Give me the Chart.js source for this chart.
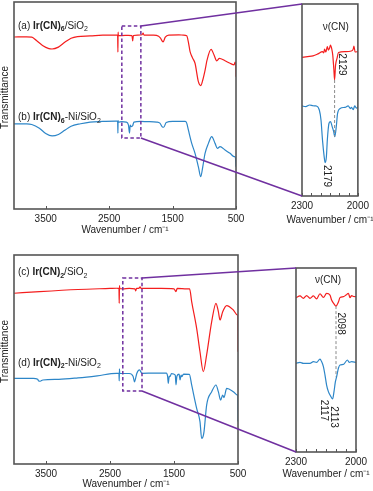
<!DOCTYPE html>
<html>
<head>
<meta charset="utf-8">
<script src="https://cdn.jsdelivr.net/npm/chart.js@4"></script>
<style>
  body { margin: 0; background: #fff; }
  canvas { position: absolute; left: 0; top: 0; }
</style>
</head>
<body>
<canvas id="mainTop" width="373" height="491"></canvas>
<canvas id="insetTop" width="373" height="491"></canvas>
<canvas id="mainBottom" width="373" height="491"></canvas>
<canvas id="insetBottom" width="373" height="491"></canvas>
<canvas id="overlay" width="373" height="491"></canvas>
<script>
// ---- data (wavenumber / cm-1, transmittance in arbitrary offset units) ----
const xTicksMain = [3500, 2500, 1500, 500];
const xTicksInset = [2300, 2000];
const xMinorInset = [2250, 2200, 2150, 2100, 2050];

// (a) Ir(CN)6/SiO2
const aWn = [4000,3800,3720,3650,3550,3450,3400,3300,3200,3100,3000,2800,2600,2400,2366,2362,2359,2355,2300,2200,2140,2129,2118,2050,1980,1965,1950,1800,1720,1690,1650,1615,1560,1400,1330,1277,1250,1224,1185,1146,1093,1056,1024,988,956,893,846,804,762,673,594,530,514,503,500];
const aT  = [83.1,83.2,83.0,81.5,79,77.5,77.3,78.2,80.5,82.5,83.3,83.6,84,84,84,75.8,85.5,83.8,83.8,83.9,83.8,81.2,83.8,84,84.2,85,84,84,83.5,82.5,80.7,83,84,84.1,84,83.7,80.5,76,73,70.4,61.5,59.6,62.3,67,72,77.1,74.4,71.6,72.8,71.6,70.4,69.6,71,70,63.9];

// (b) Ir(CN)6-Ni/SiO2
const bWn = [4000,3800,3720,3600,3500,3400,3300,3200,3100,2950,2800,2600,2400,2366,2362,2359,2355,2300,2230,2195,2179,2168,2150,2129,2110,2000,1900,1750,1700,1660,1640,1600,1500,1300,1277,1251,1198,1146,1093,1056,1024,988,935,883,830,793,751,673,594,530,510,500];
const bT  = [41.1,41.1,40.8,39,36.5,35.3,36,38,40,41.2,42,42.3,42.5,42.5,36.7,42.7,42,42.2,42,40.5,36.7,40.5,39.8,40.2,42,42.3,42.2,42,41.5,39.6,39.5,41.8,42.3,42.3,41.5,38.2,31.7,26.9,20.4,15.6,20.4,26.9,31.7,35,31.7,29.3,30.1,28.5,26.9,25.3,25,20.4];

// (c) Ir(CN)2/SiO2
const cWn = [4000,3600,3000,2500,2400,2360,2356,2352,2348,2300,2200,2110,2098,2085,2050,2030,2015,1900,1700,1500,1470,1450,1300,1256,1224,1146,1094,1042,990,911,844,807,781,739,677,573,511,502,500];
const cT  = [81.7,82.5,83.5,84,84.1,84,76.9,85.3,84,83.8,84,83.8,82.8,84,84,84.8,84,84,84,83.8,82.5,84,83.8,83.8,77.7,64.9,53.7,44.2,52.2,68.1,76.9,72.9,68.9,72.9,75.8,73.7,71.3,71,53.7];

// (d) Ir(CN)2-Ni/SiO2
const dWn = [4000,3700,3630,3614,3590,3550,3300,3000,2700,2400,2360,2356,2352,2348,2300,2200,2140,2117,2100,2080,2040,2000,1800,1620,1600,1589,1575,1563,1540,1480,1469,1455,1420,1406,1390,1380,1350,1260,1224,1146,1094,1068,1055,1031,990,911,844,807,771,740,719,677,573,511,502,500];
const dT  = [41,41,40.5,39.7,39.6,40.2,40.5,41.2,42.2,43.4,43.4,39.8,45.5,43.4,43.3,43.3,42,39.3,41,43.4,45,43.4,43.5,43.5,42,38.6,42,41.8,43.2,42.5,37.9,42,43,40.2,42.5,41.8,43,42.9,37.8,26.6,20.3,12.3,12.5,15.5,28.2,34.6,37.8,34.6,30.6,33,31.8,36.2,34.6,33,33,20.3];

// insets, nu(CN) region
const aInWn = [2300,2270,2241,2215,2190,2183,2179,2172,2164,2158,2152,2147,2140,2135,2129,2125,2120,2112,2104,2069,2035,2025,2021,2015,2000];
const aInT  = [72.2,72.6,73,74,75.2,74.5,76.5,75,77.8,76,77,78.6,76.5,73.5,66,60.4,68,71.7,74.7,75.2,75.5,76.5,78.1,75,75.2];
const bInWn = [2300,2280,2259,2240,2224,2207,2198,2190,2181,2176,2169,2164,2155,2147,2138,2130,2124,2116,2109,2095,2069,2052,2040,2035,2025,2017,2008,2000];
const bInT  = [46.9,46.5,47.4,47,46.9,44.8,39.6,29.2,20.5,17.4,20.5,29.2,37.9,38.7,36.1,33.6,30.9,36.1,43,45.6,46.2,46.9,45.5,46.2,45,46.9,45.8,46.5];
const cInWn = [2300,2280,2263,2247,2230,2213,2197,2180,2163,2147,2130,2122,2110,2100,2088,2080,2063,2050,2038,2030,2022,2013,2000];
const cInT  = [83.9,84.8,83.5,85,83.5,84.8,83.2,86,84,86.2,85.3,82.6,80.5,79.3,81.5,83.9,84.4,85.3,86.2,83.9,85,84.5,84.4];
const dInWn = [2300,2280,2263,2247,2230,2213,2197,2180,2172,2163,2155,2147,2138,2130,2117,2110,2103,2097,2088,2080,2063,2043,2033,2022,2000];
const dInT  = [48.2,48.7,48.2,48.2,48.2,49.1,48.7,50.5,49.1,46.4,41.8,36.4,32.8,31,28.8,32.8,38.2,40.9,45.5,47.3,47.6,50,48.7,49.1,48.7];

const labelA = [['(a) ','n'],['Ir(CN)','b'],['6','bs'],['/SiO','n'],['2','s']];
const labelB = [['(b) ','n'],['Ir(CN)','b'],['6','bs'],['-Ni/SiO','n'],['2','s']];
const labelC = [['(c) ','n'],['Ir(CN)','b'],['2','bs'],['/SiO','n'],['2','s']];
const labelD = [['(d) ','n'],['Ir(CN)','b'],['2','bs'],['-Ni/SiO','n'],['2','s']];

// ---- styling ----
const FONT = "'Liberation Sans', Arial, sans-serif";
const RED = '#f41e1e';
const BLUE = '#2d86c8';
const PURPLE = '#7030a0';
const TEXT = '#222';
const X_TITLE = 'Wavenumber / cm\u207B\u00B9';

const pts = (xs, ys) => xs.map((x, i) => ({ x: x, y: ys[i] }));

function drawRich(ctx, parts, x, y) {
  parts.forEach(([t, s]) => {
    const bold = s[0] === 'b';
    const sub = s.endsWith('s');
    ctx.font = (bold ? 'bold ' : '') + (sub ? 7 : 10) + 'px ' + FONT;
    ctx.fillText(t, x, sub ? y + 2.5 : y);
    x += ctx.measureText(t).width;
  });
}

const decor = {
  id: 'decor',
  afterDatasetsDraw(chart, args, o) {
    const { ctx, chartArea: a, scales: { x, y } } = chart;
    ctx.save();
    ctx.fillStyle = TEXT;
    ctx.textBaseline = 'alphabetic';
    // dashed selection box
    if (o.box) {
      const x1 = x.getPixelForValue(o.box.from), x2 = x.getPixelForValue(o.box.to);
      const y1 = y.getPixelForValue(o.box.top), y2 = y.getPixelForValue(o.box.bottom);
      ctx.strokeStyle = PURPLE; ctx.lineWidth = 1.5; ctx.setLineDash([3.5, 2.5]);
      ctx.strokeRect(x1, y1, x2 - x1, y2 - y1);
      ctx.setLineDash([]);
    }
    // guide between the two CN bands
    if (o.guide) {
      const gx = x.getPixelForValue(o.guide.x);
      ctx.strokeStyle = '#8a8a8a'; ctx.lineWidth = 1; ctx.setLineDash([3, 2]);
      ctx.beginPath();
      ctx.moveTo(gx, y.getPixelForValue(o.guide.y1));
      ctx.lineTo(gx, y.getPixelForValue(o.guide.y2));
      ctx.stroke();
      ctx.setLineDash([]);
    }
    // notes
    (o.notes || []).forEach(n => {
      ctx.save();
      ctx.font = '10px ' + FONT;
      ctx.textAlign = 'center'; ctx.textBaseline = 'middle';
      ctx.translate(x.getPixelForValue(n.x), y.getPixelForValue(n.y));
      if (n.rot) ctx.rotate(Math.PI / 2);
      ctx.fillText(n.text, 0, 0);
      ctx.restore();
    });
    // sample labels
    (o.labels || []).forEach(l => drawRich(ctx, l.parts, a.left + 4, y.getPixelForValue(l.y)));
    // inward ticks
    ctx.strokeStyle = '#555'; ctx.lineWidth = 1;
    (o.ticks || []).forEach(v => {
      const px = Math.round(x.getPixelForValue(v)) + 0.5;
      ctx.beginPath(); ctx.moveTo(px, a.bottom); ctx.lineTo(px, a.bottom - 3); ctx.stroke();
    });
    // frame
    ctx.strokeStyle = '#555'; ctx.lineWidth = 1.6;
    ctx.strokeRect(a.left, a.top, a.width, a.height);
    // y title
    if (o.yTitle) {
      ctx.save();
      ctx.font = '10px ' + FONT; ctx.textAlign = 'center'; ctx.textBaseline = 'middle';
      ctx.translate(5, (a.top + a.bottom) / 2 - 8);
      ctx.rotate(-Math.PI / 2);
      ctx.fillText(o.yTitle, 0, 0);
      ctx.restore();
    }
    // x title (drawn here so it is not squeezed to the narrow inset width)
    if (o.xTitleGap) {
      ctx.font = '10px ' + FONT; ctx.textAlign = 'center'; ctx.textBaseline = 'middle';
      ctx.fillText(X_TITLE, (a.left + a.right) / 2, a.bottom + o.xTitleGap);
    }
    ctx.restore();
  }
};

function makeChart(id, sets, xr, tickVals, pad, axisH, deco) {
  return new Chart(document.getElementById(id), {
    type: 'line',
    data: {
      datasets: sets.map(s => ({
        data: s.data, borderColor: s.color, borderWidth: 1.2,
        pointRadius: 0, cubicInterpolationMode: 'monotone', fill: false
      }))
    },
    options: {
      responsive: false, animation: false,
      layout: { padding: pad },
      plugins: { legend: { display: false }, tooltip: { enabled: false }, decor: deco },
      scales: {
        x: {
          type: 'linear', reverse: true, min: xr[0], max: xr[1],
          afterBuildTicks: s => { s.ticks = tickVals.map(v => ({ value: v })); },
          afterFit: s => { s.height = axisH; },
          grid: { display: false, drawTicks: false }, border: { display: false },
          ticks: { font: { size: 10, family: FONT }, color: TEXT, padding: 4, maxRotation: 0, autoSkip: false,
                   callback: v => String(v) },
          title: { display: false }
        },
        y: { display: false, min: 0, max: 100 }
      }
    },
    plugins: [decor]
  });
}

const mainTop = makeChart('mainTop',
  [{ data: pts(aWn, aT), color: RED }, { data: pts(bWn, bT), color: BLUE }],
  [500, 4000], xTicksMain, { left: 14, right: 137, top: 2, bottom: 251 }, 31,
  { box: { from: 2300, to: 2000, top: 88.4, bottom: 34.3 }, ticks: xTicksMain, yTitle: 'Transmittance', xTitleGap: 21,
    labels: [{ parts: labelA, y: 87 }, { parts: labelB, y: 42.8 }] });

const insetTop = makeChart('insetTop',
  [{ data: pts(aInWn, aInT), color: RED }, { data: pts(bInWn, bInT), color: BLUE }],
  [2000, 2300], xTicksInset, { left: 302, right: 13, top: 4, bottom: 261 }, 34,
  { ticks: xMinorInset.concat(xTicksInset), guide: { x: 2125, y1: 60.4, y2: 30.9 }, xTitleGap: 24,
    notes: [{ text: '\u03BD(CN)', x: 2119, y: 88 }, { text: '2129', x: 2086, y: 68.5, rot: true }, { text: '2179', x: 2167, y: 10.4, rot: true }] });

const mainBottom = makeChart('mainBottom',
  [{ data: pts(cWn, cT), color: RED }, { data: pts(dWn, dT), color: BLUE }],
  [500, 4000], xTicksMain, { left: 14, right: 135, top: 255, bottom: 0 }, 27,
  { box: { from: 2300, to: 2000, top: 89, bottom: 34.9 }, ticks: xTicksMain, yTitle: 'Transmittance', xTitleGap: 20,
    labels: [{ parts: labelC, y: 90.4 }, { parts: labelD, y: 46.9 }] });

const insetBottom = makeChart('insetBottom',
  [{ data: pts(cInWn, cInT), color: RED }, { data: pts(dInWn, dInT), color: BLUE }],
  [2000, 2300], xTicksInset, { left: 296, right: 17, top: 268, bottom: 7 }, 32,
  { ticks: xMinorInset.concat(xTicksInset), guide: { x: 2100, y1: 79.3, y2: 40.9 }, xTitleGap: 22,
    notes: [{ text: '\u03BD(CN)', x: 2140, y: 93.5 }, { text: '2098', x: 2075, y: 69.8, rot: true },
            { text: '2117', x: 2163, y: 22.6, rot: true }, { text: '2113', x: 2110, y: 19, rot: true }] });

// connector lines from each dashed box to its inset
function connect(main, inset, box) {
  const ctx = document.getElementById('overlay').getContext('2d');
  const bx = main.scales.x.getPixelForValue(box.to);
  const a = inset.chartArea;
  ctx.strokeStyle = PURPLE; ctx.lineWidth = 1.5;
  ctx.beginPath();
  ctx.moveTo(bx, main.scales.y.getPixelForValue(box.top)); ctx.lineTo(a.left, a.top);
  ctx.moveTo(bx, main.scales.y.getPixelForValue(box.bottom)); ctx.lineTo(a.left, a.bottom);
  ctx.stroke();
}
connect(mainTop, insetTop, mainTop.options.plugins.decor.box);
connect(mainBottom, insetBottom, mainBottom.options.plugins.decor.box);
</script>
</body>
</html>
